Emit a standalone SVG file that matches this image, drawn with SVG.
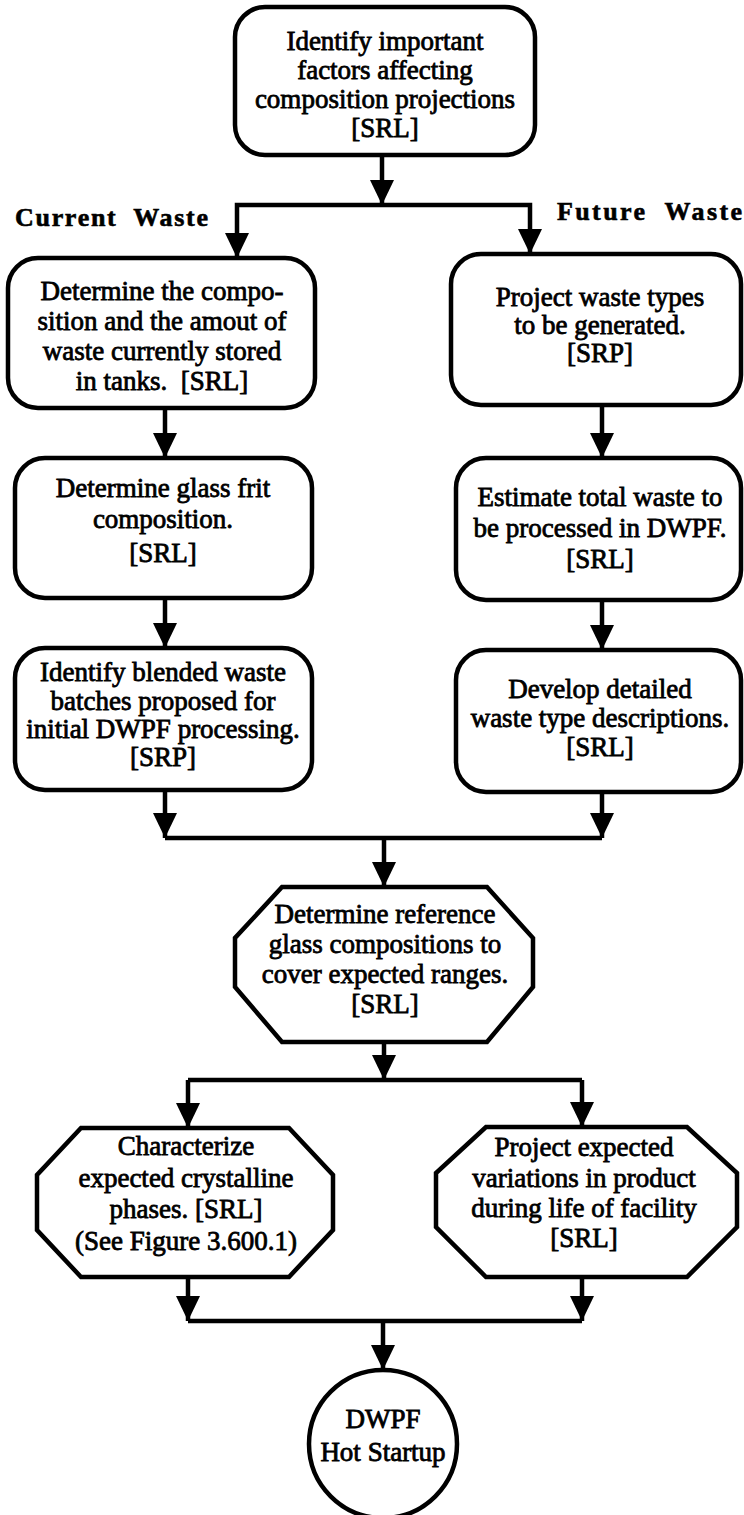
<svg xmlns="http://www.w3.org/2000/svg" width="744" height="1515" viewBox="0 0 744 1515">
  <defs>
    <style>
      .box { fill: #fff; stroke: #000; stroke-width: 4.5; stroke-linejoin: round; }
      .oct { fill: #fff; stroke: #000; stroke-width: 4.5; stroke-linejoin: miter; }
      .wire { fill: none; stroke: #000; stroke-width: 4.5; stroke-linejoin: miter; }
      .lbl { font-family: "Liberation Serif", "Times New Roman", serif; font-size: 27px; fill: #000; stroke: #000; stroke-width: 0.8; text-anchor: middle; }
      .side { font-family: "Liberation Serif", "Times New Roman", serif; font-size: 26px; font-weight: bold; fill: #000; stroke: #000; stroke-width: 0.6; white-space: pre; }
    </style>
    <marker id="ah" markerWidth="26" markerHeight="24" refX="25" refY="12" orient="auto" markerUnits="userSpaceOnUse">
      <path d="M0,0 L25,12 L0,24 Z" fill="#000"/>
    </marker>
  </defs>
  <rect width="744" height="1515" fill="#fff"/>

  <!-- connectors -->
  <g id="connectors">
    <path class="wire" d="M382,155 V205" marker-end="url(#ah)"/>
    <path class="wire" d="M382,205 H237 V258" marker-end="url(#ah)"/>
    <path class="wire" d="M382,205 H530 V254" marker-end="url(#ah)"/>
    <path class="wire" d="M165,408 V458" marker-end="url(#ah)"/>
    <path class="wire" d="M165,598 V648" marker-end="url(#ah)"/>
    <path class="wire" d="M602,405 V458" marker-end="url(#ah)"/>
    <path class="wire" d="M602,600 V650" marker-end="url(#ah)"/>
    <path class="wire" d="M165,790 V838" marker-end="url(#ah)"/>
    <path class="wire" d="M602,792 V838" marker-end="url(#ah)"/>
    <path class="wire" d="M165,838 H602"/>
    <path class="wire" d="M384,838 V887" marker-end="url(#ah)"/>
    <path class="wire" d="M384,1042 V1080" marker-end="url(#ah)"/>
    <path class="wire" d="M188,1080 H582"/>
    <path class="wire" d="M188,1080 V1128" marker-end="url(#ah)"/>
    <path class="wire" d="M582,1080 V1127" marker-end="url(#ah)"/>
    <path class="wire" d="M188,1277 V1321" marker-end="url(#ah)"/>
    <path class="wire" d="M582,1277 V1321" marker-end="url(#ah)"/>
    <path class="wire" d="M188,1321 H582"/>
    <path class="wire" d="M383,1321 V1370" marker-end="url(#ah)"/>
  </g>

  <!-- branch labels -->
  <text class="side" x="15" y="226" textLength="193" lengthAdjust="spacing" xml:space="preserve">Current  Waste</text>
  <text class="side" x="557" y="220" textLength="185" lengthAdjust="spacing" xml:space="preserve">Future  Waste</text>

  <g id="factors">
    <rect class="box" x="235" y="7" width="300" height="148" rx="30"/>
    <text class="lbl" x="385" y="50">Identify important</text>
    <text class="lbl" x="385" y="79">factors affecting</text>
    <text class="lbl" x="385" y="108">composition projections</text>
    <text class="lbl" x="385" y="137">[SRL]</text>
  </g>

  <g id="current-composition">
    <rect class="box" x="8" y="258" width="307" height="150" rx="30"/>
    <text class="lbl" x="162" y="300">Determine the compo-</text>
    <text class="lbl" x="162" y="330">sition and the amout of</text>
    <text class="lbl" x="162" y="360">waste currently stored</text>
    <text class="lbl" x="162" y="390" xml:space="preserve">in tanks.  [SRL]</text>
  </g>

  <g id="frit">
    <rect class="box" x="15" y="458" width="297" height="140" rx="30"/>
    <text class="lbl" x="163" y="497">Determine glass frit</text>
    <text class="lbl" x="163" y="528">composition.</text>
    <text class="lbl" x="163" y="562">[SRL]</text>
  </g>

  <g id="blended">
    <rect class="box" x="15" y="648" width="297" height="142" rx="30"/>
    <text class="lbl" x="163" y="681">Identify blended waste</text>
    <text class="lbl" x="163" y="710">batches proposed for</text>
    <text class="lbl" x="163" y="738">initial DWPF processing.</text>
    <text class="lbl" x="163" y="766">[SRP]</text>
  </g>

  <g id="future-types">
    <rect class="box" x="451" y="254" width="290" height="151" rx="30"/>
    <text class="lbl" x="600" y="306">Project waste types</text>
    <text class="lbl" x="600" y="334">to be generated.</text>
    <text class="lbl" x="600" y="362">[SRP]</text>
  </g>

  <g id="total-waste">
    <rect class="box" x="456" y="458" width="285" height="142" rx="30"/>
    <text class="lbl" x="600" y="506">Estimate total waste to</text>
    <text class="lbl" x="600" y="537">be processed in DWPF.</text>
    <text class="lbl" x="600" y="568">[SRL]</text>
  </g>

  <g id="descriptions">
    <rect class="box" x="456" y="650" width="285" height="142" rx="30"/>
    <text class="lbl" x="600" y="698">Develop detailed</text>
    <text class="lbl" x="600" y="727">waste type descriptions.</text>
    <text class="lbl" x="600" y="756">[SRL]</text>
  </g>

  <g id="reference-glass">
    <polygon class="oct" points="282,887 487,887 533,938 533,987 487,1042 282,1042 235,987 235,938"/>
    <text class="lbl" x="385" y="923">Determine reference</text>
    <text class="lbl" x="385" y="953">glass compositions to</text>
    <text class="lbl" x="385" y="983">cover expected ranges.</text>
    <text class="lbl" x="385" y="1013">[SRL]</text>
  </g>

  <g id="crystalline">
    <polygon class="oct" points="81,1128 289,1128 333,1175 333,1230 289,1277 81,1277 37,1230 37,1175"/>
    <text class="lbl" x="186" y="1155">Characterize</text>
    <text class="lbl" x="186" y="1187">expected crystalline</text>
    <text class="lbl" x="186" y="1218">phases. [SRL]</text>
    <text class="lbl" x="186" y="1250">(See Figure 3.600.1)</text>
  </g>

  <g id="variations">
    <polygon class="oct" points="486,1127 687,1127 737,1173 737,1227 687,1277 486,1277 436,1227 436,1173"/>
    <text class="lbl" x="584" y="1156">Project expected</text>
    <text class="lbl" x="584" y="1187">variations in product</text>
    <text class="lbl" x="584" y="1217">during life of facility</text>
    <text class="lbl" x="584" y="1247">[SRL]</text>
  </g>

  <g id="startup">
    <circle class="box" cx="383" cy="1444" r="74"/>
    <text class="lbl" x="383" y="1428">DWPF</text>
    <text class="lbl" x="383" y="1461">Hot Startup</text>
  </g>
</svg>
